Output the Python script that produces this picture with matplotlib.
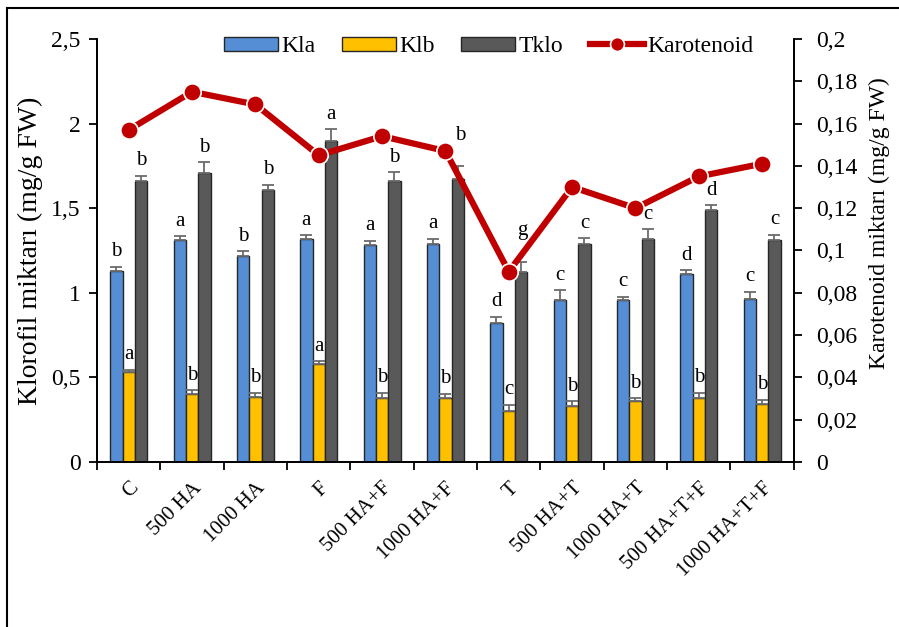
import numpy as np
import matplotlib.pyplot as plt
from matplotlib.patches import Rectangle
from matplotlib.ticker import FuncFormatter

plt.rcParams['font.family'] = ['Liberation Serif', 'DejaVu Serif']

groups = ['C', '500 HA', '1000 HA', 'F', '500 HA+F', '1000 HA+F', 'T',
          '500 HA+T', '1000 HA+T', '500 HA+T+F', '1000 HA+T+F']

kla = [1.13, 1.31, 1.22, 1.32, 1.28, 1.29, 0.82, 0.96, 0.955, 1.11, 0.965]
klb = [0.53, 0.40, 0.385, 0.58, 0.38, 0.38, 0.30, 0.33, 0.36, 0.38, 0.345]
tklo = [1.66, 1.71, 1.605, 1.895, 1.66, 1.67, 1.12, 1.29, 1.315, 1.49, 1.31]
karotenoid = [0.157, 0.175, 0.169, 0.145, 0.154, 0.147, 0.090, 0.130, 0.120, 0.135, 0.141]

kla_err = [0.024, 0.024, 0.026, 0.020, 0.028, 0.030, 0.039, 0.055, 0.020, 0.022, 0.041]
klb_err = [0.014, 0.024, 0.026, 0.016, 0.028, 0.024, 0.039, 0.030, 0.018, 0.028, 0.022]
tklo_err = [0.032, 0.061, 0.033, 0.071, 0.051, 0.081, 0.063, 0.032, 0.061, 0.028, 0.032]

kla_sig = ['b', 'a', 'b', 'a', 'a', 'a', 'd', 'c', 'c', 'd', 'c']
klb_sig = ['a', 'b', 'b', 'a', 'b', 'b', 'c', 'b', 'b', 'b', 'b']
tklo_sig = ['b', 'b', 'b', 'a', 'b', 'b', 'g', 'c', 'c', 'd', 'c']

fig = plt.figure(figsize=(8.99, 6.27), dpi=100)
ax = fig.add_axes([0.108, 0.263, 0.775, 0.675])
ax2 = ax.twinx()

x = np.arange(len(groups))
w = 0.195
series = [
    (kla, kla_err, kla_sig, '#558ED5', 'Kla', -w),
    (klb, klb_err, klb_sig, '#FFC000', 'Klb', 0),
    (tklo, tklo_err, tklo_sig, '#595959', 'Tklo', w),
]
handles = []
for vals, err, sig, col, name, off in series:
    b = ax.bar(x + off, vals, w, color=col, edgecolor='#262626', linewidth=1.0,
               label=name, zorder=2)
    handles.append(b)
    ax.errorbar(x + off, vals, yerr=[np.zeros(len(vals)), err], fmt='none',
                ecolor='#6b6b6b', elinewidth=1.3, capsize=4, capthick=1.3, zorder=3)
    for i, (xi, v, e, s) in enumerate(zip(x + off, vals, err, sig)):
        dy = 4
        dx = 0
        # a couple of Tklo letters sit higher so the line doesn't cover them
        if name == 'Tklo' and i == 6:
            dy, dx = 16, 1
        if name == 'Tklo' and i == 5:
            dy, dx = 15, 2
        ax.annotate(s, (xi, v + e), xytext=(dx, dy), textcoords='offset points',
                    ha='center', va='bottom', fontsize=15)

line, = ax2.plot(x, karotenoid, color='#C00000', lw=4.5, marker='o', ms=12.5,
                 markeredgecolor='white', markeredgewidth=1.2, label='Karotenoid',
                 zorder=4)
handles.append(line)

ax.set_xlim(-0.5, len(groups) - 0.5)
ax.set_ylim(0, 2.5)
ax2.set_ylim(0, 0.2)
ax.set_yticks(np.arange(0, 2.51, 0.5))
ax2.set_yticks(np.arange(0, 0.201, 0.02))

comma = FuncFormatter(lambda v, p: ('%g' % round(v, 3)).replace('.', ','))
ax.yaxis.set_major_formatter(comma)
ax2.yaxis.set_major_formatter(comma)

ax.set_xticks(np.arange(-0.5, len(groups) + 0.5, 1))
ax.set_xticklabels([])
ax.set_xticks(x, minor=True)
ax.set_xticklabels(groups, minor=True, rotation=45, ha='right',
                   rotation_mode='anchor', fontsize=15)
ax.tick_params(axis='x', which='minor', length=0, pad=12)
ax.tick_params(axis='x', which='major', direction='out', length=6, width=1.3)
ax.tick_params(axis='y', direction='out', length=6, width=1.3, labelsize=17, pad=6)
ax2.tick_params(axis='y', direction='out', length=6, width=1.3, labelsize=17, pad=10)

for a in (ax, ax2):
    a.spines['top'].set_visible(False)
    for s in ('left', 'right', 'bottom'):
        a.spines[s].set_linewidth(1.3)

ax.set_ylabel('Klorofil miktarı (mg/g FW)', fontsize=20, labelpad=6)
ax2.set_ylabel('Karotenoid miktarı (mg/g FW)', fontsize=17)
ax2.yaxis.set_label_coords(1.108, 0.565)

ax.legend(handles=handles, loc='upper center', bbox_to_anchor=(0.562, 1.057),
          ncol=4, frameon=False, fontsize=17, handlelength=2.3, handleheight=0.55,
          columnspacing=1.1, handletextpad=0.15, markerscale=0.8)

# outer frame around the chart area
fig.patches.append(Rectangle((7 / 899, -0.1), 1.2, 1.1 - 8 / 627, transform=fig.transFigure,
                             fill=False, edgecolor='black', linewidth=1.5))

fig.savefig('out.png', dpi=100)
